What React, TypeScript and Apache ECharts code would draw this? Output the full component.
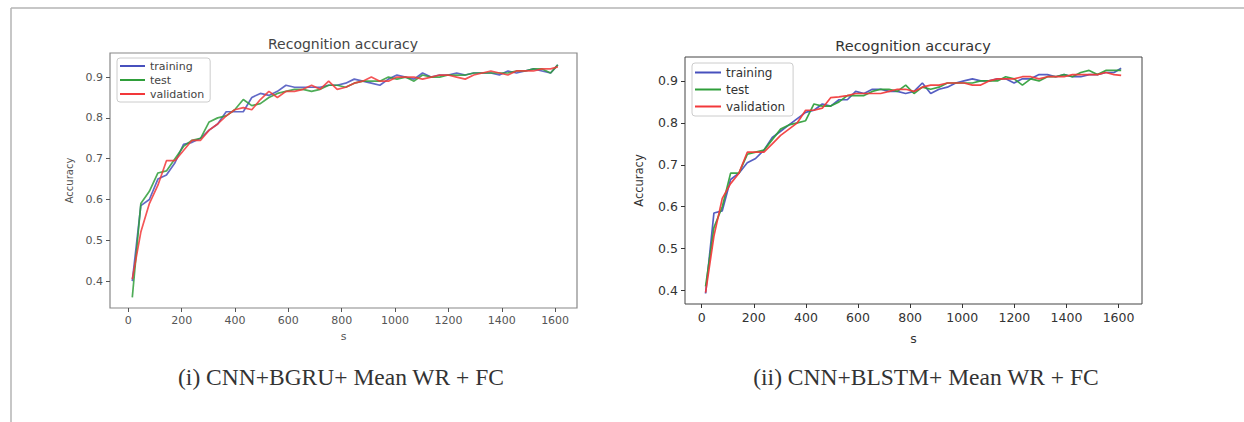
import React, { useEffect, useRef } from "react";
import * as echarts from "echarts";

// x positions (s) of the recorded points
const steps = [
  15, 47, 79, 111, 143, 175, 207, 239, 271, 303, 335, 367, 399, 431, 463, 495, 527, 559, 591, 623,
  655, 687, 719, 751, 783, 815, 847, 879, 911, 943, 975, 1007, 1039, 1071, 1103, 1135, 1167, 1199,
  1231, 1263, 1295, 1327, 1359, 1391, 1423, 1455, 1487, 1519, 1551, 1583, 1610,
];

// (i) CNN+BGRU
const gruTraining = [
  0.4, 0.585, 0.6, 0.65, 0.66, 0.69, 0.735, 0.74, 0.75, 0.77, 0.785, 0.815, 0.815, 0.815, 0.85,
  0.86, 0.855, 0.865, 0.88, 0.875, 0.875, 0.875, 0.875, 0.88, 0.88, 0.885, 0.895, 0.89, 0.885, 0.88,
  0.895, 0.905, 0.9, 0.895, 0.91, 0.9, 0.905, 0.905, 0.91, 0.905, 0.91, 0.91, 0.91, 0.905, 0.915,
  0.91, 0.915, 0.92, 0.915, 0.91, 0.93,
];
const gruTest = [
  0.36, 0.59, 0.62, 0.665, 0.67, 0.7, 0.73, 0.745, 0.75, 0.79, 0.8, 0.805, 0.82, 0.845, 0.83, 0.835,
  0.85, 0.86, 0.865, 0.87, 0.87, 0.865, 0.87, 0.88, 0.88, 0.875, 0.885, 0.89, 0.89, 0.89, 0.9,
  0.895, 0.9, 0.89, 0.905, 0.9, 0.9, 0.905, 0.905, 0.905, 0.91, 0.91, 0.91, 0.91, 0.91, 0.915,
  0.915, 0.92, 0.92, 0.91, 0.93,
];
const gruValidation = [
  0.405, 0.52, 0.59, 0.635, 0.695, 0.695, 0.72, 0.745, 0.745, 0.77, 0.785, 0.805, 0.82, 0.825,
  0.82, 0.845, 0.865, 0.85, 0.865, 0.865, 0.87, 0.88, 0.87, 0.89, 0.87, 0.875, 0.885, 0.89, 0.9,
  0.89, 0.89, 0.9, 0.9, 0.9, 0.895, 0.9, 0.905, 0.905, 0.9, 0.895, 0.905, 0.91, 0.915, 0.91, 0.905,
  0.915, 0.915, 0.915, 0.92, 0.92, 0.925,
];

// (ii) CNN+BLSTM
const lstmTraining = [
  0.393, 0.585, 0.59, 0.665, 0.68, 0.705, 0.715, 0.735, 0.765, 0.78, 0.795, 0.81, 0.825, 0.83,
  0.845, 0.84, 0.855, 0.855, 0.875, 0.87, 0.88, 0.88, 0.875, 0.875, 0.87, 0.875, 0.895, 0.87, 0.88,
  0.885, 0.895, 0.9, 0.905, 0.9, 0.9, 0.905, 0.905, 0.895, 0.905, 0.905, 0.915, 0.915, 0.91, 0.915,
  0.91, 0.91, 0.915, 0.915, 0.92, 0.92, 0.93,
];
const lstmTest = [
  0.41, 0.55, 0.6, 0.68, 0.68, 0.725, 0.73, 0.735, 0.76, 0.785, 0.795, 0.8, 0.805, 0.845, 0.84,
  0.84, 0.85, 0.865, 0.865, 0.865, 0.875, 0.88, 0.88, 0.875, 0.89, 0.87, 0.885, 0.88, 0.885, 0.895,
  0.895, 0.895, 0.895, 0.9, 0.9, 0.9, 0.91, 0.905, 0.89, 0.905, 0.9, 0.91, 0.91, 0.915, 0.91, 0.92,
  0.925, 0.915, 0.925, 0.925, 0.925,
];
const lstmValidation = [
  0.395, 0.53, 0.62, 0.655, 0.68, 0.73, 0.73, 0.73, 0.75, 0.77, 0.785, 0.8, 0.83, 0.83, 0.835,
  0.86, 0.862, 0.865, 0.87, 0.87, 0.87, 0.87, 0.875, 0.88, 0.88, 0.875, 0.885, 0.89, 0.89, 0.895,
  0.895, 0.895, 0.89, 0.89, 0.9, 0.905, 0.905, 0.905, 0.91, 0.91, 0.905, 0.91, 0.91, 0.91, 0.915,
  0.915, 0.915, 0.915, 0.92, 0.915, 0.913,
];

const yTicks = [0.4, 0.5, 0.6, 0.7, 0.8, 0.9];
const xTicks = [0, 200, 400, 600, 800, 1000, 1200, 1400, 1600];
const seriesNames = ["training", "test", "validation"];
const titleText = "Recognition accuracy";
const captions = ["(i) CNN+BGRU+ Mean WR + FC", "(ii) CNN+BLSTM+ Mean WR + FC"];

const colors = ["#4750bd", "#2f9e3a", "#f2383a"];

const pairs = (vals: number[]) => steps.map((s, i) => [s, vals[i]]);

export default function App() {
  const ref = useRef<HTMLDivElement>(null);
  useEffect(() => {
    if (!ref.current) return;
    const chart = echarts.init(ref.current, undefined, { renderer: "svg" });
    const font = "DejaVu Sans";

    const mkX = (gi: number, fs: number, col: string, gap: number, min: number, max: number) => ({
      type: "value",
      gridIndex: gi,
      min,
      max,
      name: "s",
      nameLocation: "middle",
      nameGap: gap,
      nameTextStyle: { fontFamily: font, fontSize: fs, color: col },
      axisLine: { show: false, onZero: false },
      axisTick: { show: true, customValues: xTicks, length: 4, inside: false, lineStyle: { color: col } },
      axisLabel: {
        customValues: xTicks,
        fontFamily: font,
        fontSize: fs,
        color: col,
        margin: 7,
        formatter: (v: number) => String(v),
      },
      splitLine: { show: false },
    });
    const mkY = (gi: number, fs: number, col: string, gap: number, min: number, max: number) => ({
      type: "value",
      gridIndex: gi,
      min,
      max,
      name: "Accuracy",
      nameLocation: "middle",
      nameRotate: 90,
      nameGap: gap,
      nameTextStyle: { fontFamily: font, fontSize: fs - 1, color: col },
      axisLine: { show: false, onZero: false },
      axisTick: { show: true, customValues: yTicks, length: 4, lineStyle: { color: col } },
      axisLabel: {
        customValues: yTicks,
        fontFamily: font,
        fontSize: fs,
        color: col,
        margin: 7,
        formatter: (v: number) => v.toFixed(1),
      },
      splitLine: { show: false },
    });

    const series: any[] = [];
    const sets = [
      [gruTraining, gruTest, gruValidation],
      [lstmTraining, lstmTest, lstmValidation],
    ];
    sets.forEach((set, gi) => {
      set.forEach((vals, k) => {
        series.push({
          type: "line",
          name: seriesNames[k],
          xAxisIndex: gi,
          yAxisIndex: gi,
          data: pairs(vals),
          symbol: "none",
          color: colors[k],
          lineStyle: { width: 1.7, color: colors[k], opacity: gi === 0 ? 0.85 : 0.92 },
          z: 2 + k,
        });
      });
    });

    chart.setOption({
      animation: false,
      backgroundColor: "#ffffff",
      grid: [
        { left: 110, top: 53, width: 467, height: 255, show: true, borderColor: "#888", borderWidth: 1.2, backgroundColor: "transparent" },
        { left: 685, top: 57, width: 457, height: 247, show: true, borderColor: "#444", borderWidth: 1, backgroundColor: "transparent" },
      ],
      xAxis: [mkX(0, 11, "#555", 22, -68.6, 1682), mkX(1, 12.5, "#333", 28, -64, 1690)],
      yAxis: [mkY(0, 11, "#555", 36, 0.334, 0.959), mkY(1, 12.5, "#333", 40, 0.368, 0.957)],
      legend: [
        {
          data: seriesNames,
          orient: "vertical",
          left: 117,
          top: 58,
          padding: [1, 6, 1, 3],
          itemGap: 0,
          itemWidth: 25,
          itemHeight: 2,
          icon: "rect",
          itemTextGap: 9,
          selectedMode: false,
          borderColor: "#ccc",
          borderWidth: 1,
          borderRadius: 3,
          backgroundColor: "#fff",
          textStyle: { fontFamily: font, fontSize: 11, color: "#444", lineHeight: 14 },
        },
        {
          data: seriesNames,
          orient: "vertical",
          left: 692,
          top: 63,
          padding: [1, 8, 1, 3],
          itemGap: 0,
          itemWidth: 26,
          itemHeight: 2,
          icon: "rect",
          itemTextGap: 9,
          selectedMode: false,
          borderColor: "#ccc",
          borderWidth: 1,
          borderRadius: 3,
          backgroundColor: "#fff",
          textStyle: { fontFamily: font, fontSize: 12, color: "#333", lineHeight: 17 },
        },
      ],
      graphic: [
        { type: "line", shape: { x1: 11, y1: 8, x2: 1244, y2: 8 }, style: { stroke: "#b5b5b5", lineWidth: 1.5 } },
        { type: "line", shape: { x1: 11, y1: 8, x2: 11, y2: 422 }, style: { stroke: "#b5b5b5", lineWidth: 1.5 } },
        {
          type: "text",
          x: 343,
          y: 44,
          style: { text: titleText, fontFamily: font, fontSize: 14, fill: "#444", align: "center", verticalAlign: "middle" },
        },
        {
          type: "text",
          x: 913,
          y: 46,
          style: { text: titleText, fontFamily: font, fontSize: 14.5, fill: "#333", align: "center", verticalAlign: "middle" },
        },
        {
          type: "text",
          x: 341,
          y: 377,
          style: { text: captions[0], fontFamily: "Liberation Serif", fontSize: 23.5, fill: "#333", align: "center", verticalAlign: "middle" },
        },
        {
          type: "text",
          x: 926,
          y: 377,
          style: { text: captions[1], fontFamily: "Liberation Serif", fontSize: 23.5, fill: "#333", align: "center", verticalAlign: "middle" },
        },
      ],
      series,
    });
    return () => chart.dispose();
  }, []);
  return <div ref={ref} style={{ position: "fixed", left: 0, top: 0, width: 1244, height: 422 }} />;
}
